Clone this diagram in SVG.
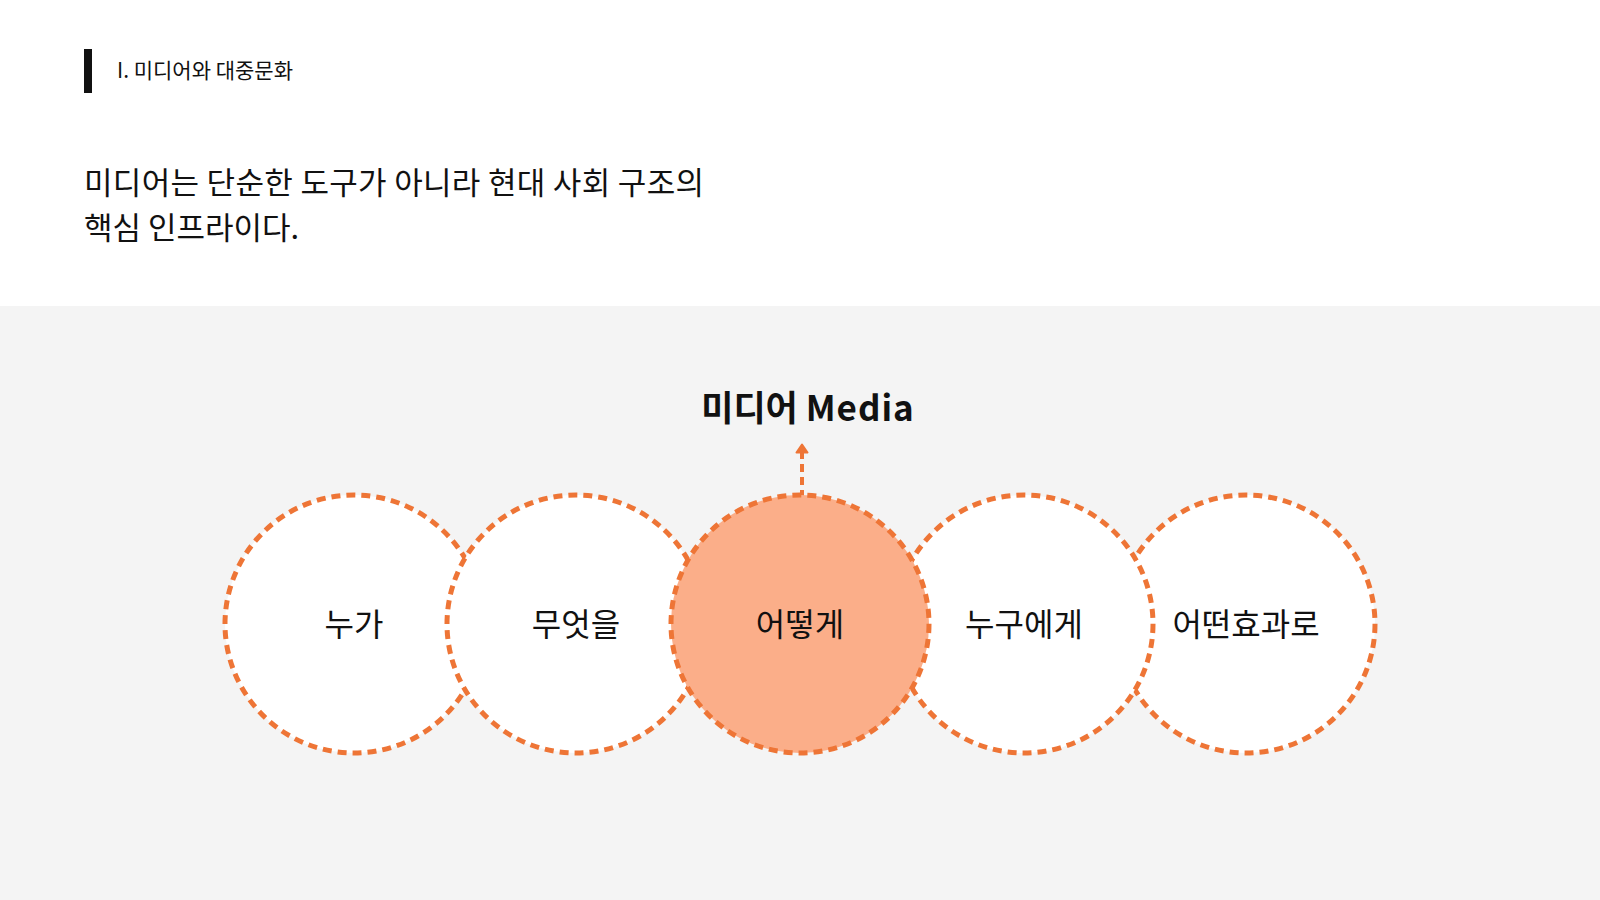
<svg xmlns="http://www.w3.org/2000/svg" width="1600" height="900" viewBox="0 0 1600 900">
  <style>
    .kr { font-family: "Noto Sans CJK KR", "Noto Sans", sans-serif; fill: #111111; }
    .ring { stroke: #EE7536; stroke-width: 5; stroke-dasharray: 9 6; fill: #FFFFFF; }
    .ring.hl { fill: #FBAE89; }
    .lbl { font-size: 32px; text-anchor: middle; }
  </style>
  <defs>
    <marker id="arrowhead" viewBox="0 0 11 14" refX="2" refY="7" markerWidth="11" markerHeight="14" markerUnits="userSpaceOnUse" orient="auto">
      <path d="M1.5 1.5 L9.5 7 L1.5 12.5 Z" fill="#EE7536" stroke="#EE7536" stroke-width="2" stroke-linejoin="round"/>
    </marker>
  </defs>

  <rect x="0" y="0" width="1600" height="900" fill="#FFFFFF"/>
  <rect x="0" y="306" width="1600" height="594" fill="#F4F4F4"/>

  <g id="header">
    <rect x="84" y="49" width="8" height="44" fill="#111111"/>
    <text class="kr" x="117" y="78" font-size="21">I. 미디어와 대중문화</text>
  </g>

  <g id="headline">
    <text class="kr" x="84" y="194" font-size="31" textLength="620" lengthAdjust="spacing">미디어는 단순한 도구가 아니라 현대 사회 구조의</text>
    <text class="kr" x="84" y="239" font-size="31">핵심 인프라이다.</text>
  </g>

  <g id="node-media">
    <text class="kr" x="808" y="421" font-size="35" font-weight="700" text-anchor="middle">미디어 <tspan letter-spacing="1">Media</tspan></text>
  </g>

  <g id="connectors">
    <line x1="802" y1="498" x2="802" y2="452" stroke="#EE7536" stroke-width="4" stroke-dasharray="8 5" marker-end="url(#arrowhead)"/>
  </g>

  <g id="node-who">
    <circle class="ring" cx="354" cy="624" r="129"/>
    <text class="kr lbl" x="354" y="636">누가</text>
  </g>
  <g id="node-what">
    <circle class="ring" cx="576" cy="624" r="129"/>
    <text class="kr lbl" x="576" y="636">무엇을</text>
  </g>
  <g id="node-effect">
    <circle class="ring" cx="1246" cy="624" r="129"/>
    <text class="kr lbl" x="1246" y="636">어떤효과로</text>
  </g>
  <g id="node-whom">
    <circle class="ring" cx="1024" cy="624" r="129"/>
    <text class="kr lbl" x="1024" y="636">누구에게</text>
  </g>
  <g id="node-how">
    <circle class="ring hl" cx="800" cy="624" r="129"/>
    <text class="kr lbl" x="800" y="636">어떻게</text>
  </g>
</svg>
